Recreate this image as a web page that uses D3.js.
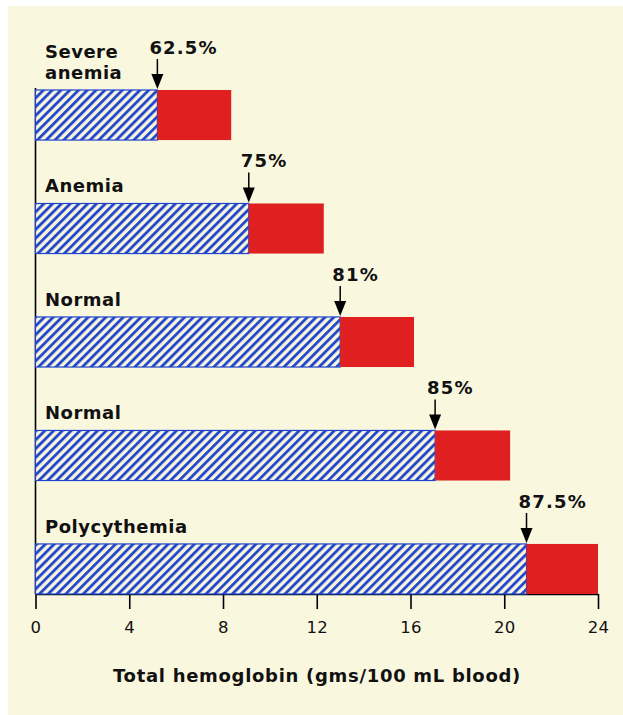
<!DOCTYPE html>
<html>
<head>
<meta charset="utf-8">
<script src="https://cdn.jsdelivr.net/npm/d3@7"></script>
<style>
  html, body { margin: 0; padding: 0; background: #fff; overflow: hidden; }
  svg { display: block; }
</style>
</head>
<body>
<div id="container"></div>
<script>
// data
const categories = [["Severe", "anemia"], ["Anemia"], ["Normal"], ["Normal"], ["Polycythemia"]];
const saturated = [5.2, 9.1, 13.0, 17.05, 20.95];
const totals = [8.35, 12.3, 16.15, 20.25, 24];
const percentLabels = ["62.5%", "75%", "81%", "85%", "87.5%"];
const xTicks = [0, 4, 8, 12, 16, 20, 24];
const xTitle = "Total hemoglobin (gms/100 mL blood)";

const width = 623,
  height = 715;

const font = "'DejaVu Sans', Verdana, sans-serif";
const cream = "#faf7df";

const svg = d3
  .select("#container")
  .append("svg")
  .attr("width", width)
  .attr("height", height)
  .attr("viewBox", [0, 0, width, height]);

// cream panel
svg
  .append("rect")
  .attr("x", 8)
  .attr("y", 6)
  .attr("width", width - 8)
  .attr("height", height - 6)
  .attr("fill", cream);

// hatch pattern for the blue part
svg
  .append("defs")
  .append("pattern")
  .attr("id", "hatch")
  .attr("patternUnits", "userSpaceOnUse")
  .attr("width", 6.2)
  .attr("height", 6.2)
  .attr("patternTransform", "rotate(45)")
  .call((p) => p.append("rect").attr("width", 6.2).attr("height", 6.2).attr("fill", cream))
  .call((p) =>
    p
      .append("line")
      .attr("x1", 1.5)
      .attr("x2", 1.5)
      .attr("y1", 0)
      .attr("y2", 6.2)
      .attr("stroke", "#1f44cc")
      .attr("stroke-width", 2.8)
  );

const x = d3.scaleLinear([0, 24], [35.5, 598]);
const y = d3
  .scaleBand(d3.range(categories.length), [90, 594])
  .paddingInner(0.559)
  .paddingOuter(0);

// x axis
svg
  .append("g")
  .attr("transform", `translate(0, 594)`)
  .call(d3.axisBottom(x).tickValues(xTicks).tickSize(15).tickPadding(12).tickSizeOuter(0))
  .call((g) => g.select(".domain").attr("stroke-width", 1.6))
  .call((g) => g.selectAll(".tick line").attr("stroke-width", 1.6))
  .call((g) =>
    g
      .selectAll(".tick text")
      .attr("font-family", font)
      .attr("font-size", 16.5)
      .attr("letter-spacing", 0.3)
      .attr("fill", "#111")
  );

// left line
svg
  .append("line")
  .attr("x1", x(0))
  .attr("x2", x(0))
  .attr("y1", y(0) - 2)
  .attr("y2", 594)
  .attr("stroke", "#000")
  .attr("stroke-width", 1.6);

// axis title
svg
  .append("text")
  .attr("x", 317)
  .attr("y", 682)
  .attr("text-anchor", "middle")
  .attr("font-family", font)
  .attr("font-weight", "bold")
  .attr("font-size", 18)
  .attr("letter-spacing", 0.7)
  .attr("fill", "#111")
  .text(xTitle);

const bars = svg
  .append("g")
  .selectAll("g")
  .data(d3.range(categories.length))
  .join("g");

// hatched part
bars
  .append("rect")
  .attr("x", x(0))
  .attr("y", (i) => y(i))
  .attr("width", (i) => x(saturated[i]) - x(0))
  .attr("height", y.bandwidth())
  .attr("fill", "url(#hatch)")
  .attr("stroke", "#1f44cc")
  .attr("stroke-width", 1.2);

// red part
bars
  .append("rect")
  .attr("x", (i) => x(saturated[i]))
  .attr("y", (i) => y(i))
  .attr("width", (i) => x(totals[i]) - x(saturated[i]))
  .attr("height", y.bandwidth())
  .attr("fill", "#e02020");

// category labels
bars
  .append("text")
  .attr("font-family", font)
  .attr("font-weight", "bold")
  .attr("font-size", 18)
  .attr("letter-spacing", 0.5)
  .attr("fill", "#111")
  .attr("x", 45)
  .attr("y", (i) => y(i) - 11 - (categories[i].length - 1) * 21)
  .selectAll("tspan")
  .data((i) => categories[i])
  .join("tspan")
  .attr("x", 45)
  .attr("dy", (d, k) => (k === 0 ? 0 : 21))
  .text((d) => d);

// arrows
bars
  .append("line")
  .attr("x1", (i) => x(saturated[i]))
  .attr("x2", (i) => x(saturated[i]))
  .attr("y1", (i) => y(i) - 31)
  .attr("y2", (i) => y(i) - 10)
  .attr("stroke", "#000")
  .attr("stroke-width", 1.5);

bars
  .append("path")
  .attr("d", (i) => {
    const cx = x(saturated[i]),
      ty = y(i) - 1;
    return `M${cx},${ty}L${cx - 6},${ty - 15}L${cx + 6},${ty - 15}Z`;
  })
  .attr("fill", "#000");

// percentage labels
bars
  .append("text")
  .attr("font-family", font)
  .attr("font-weight", "bold")
  .attr("font-size", 18)
  .attr("letter-spacing", 1.2)
  .attr("fill", "#111")
  .attr("x", (i) => x(saturated[i]) - 8)
  .attr("y", (i) => y(i) - 36)
  .text((i) => percentLabels[i]);
</script>
</body>
</html>
